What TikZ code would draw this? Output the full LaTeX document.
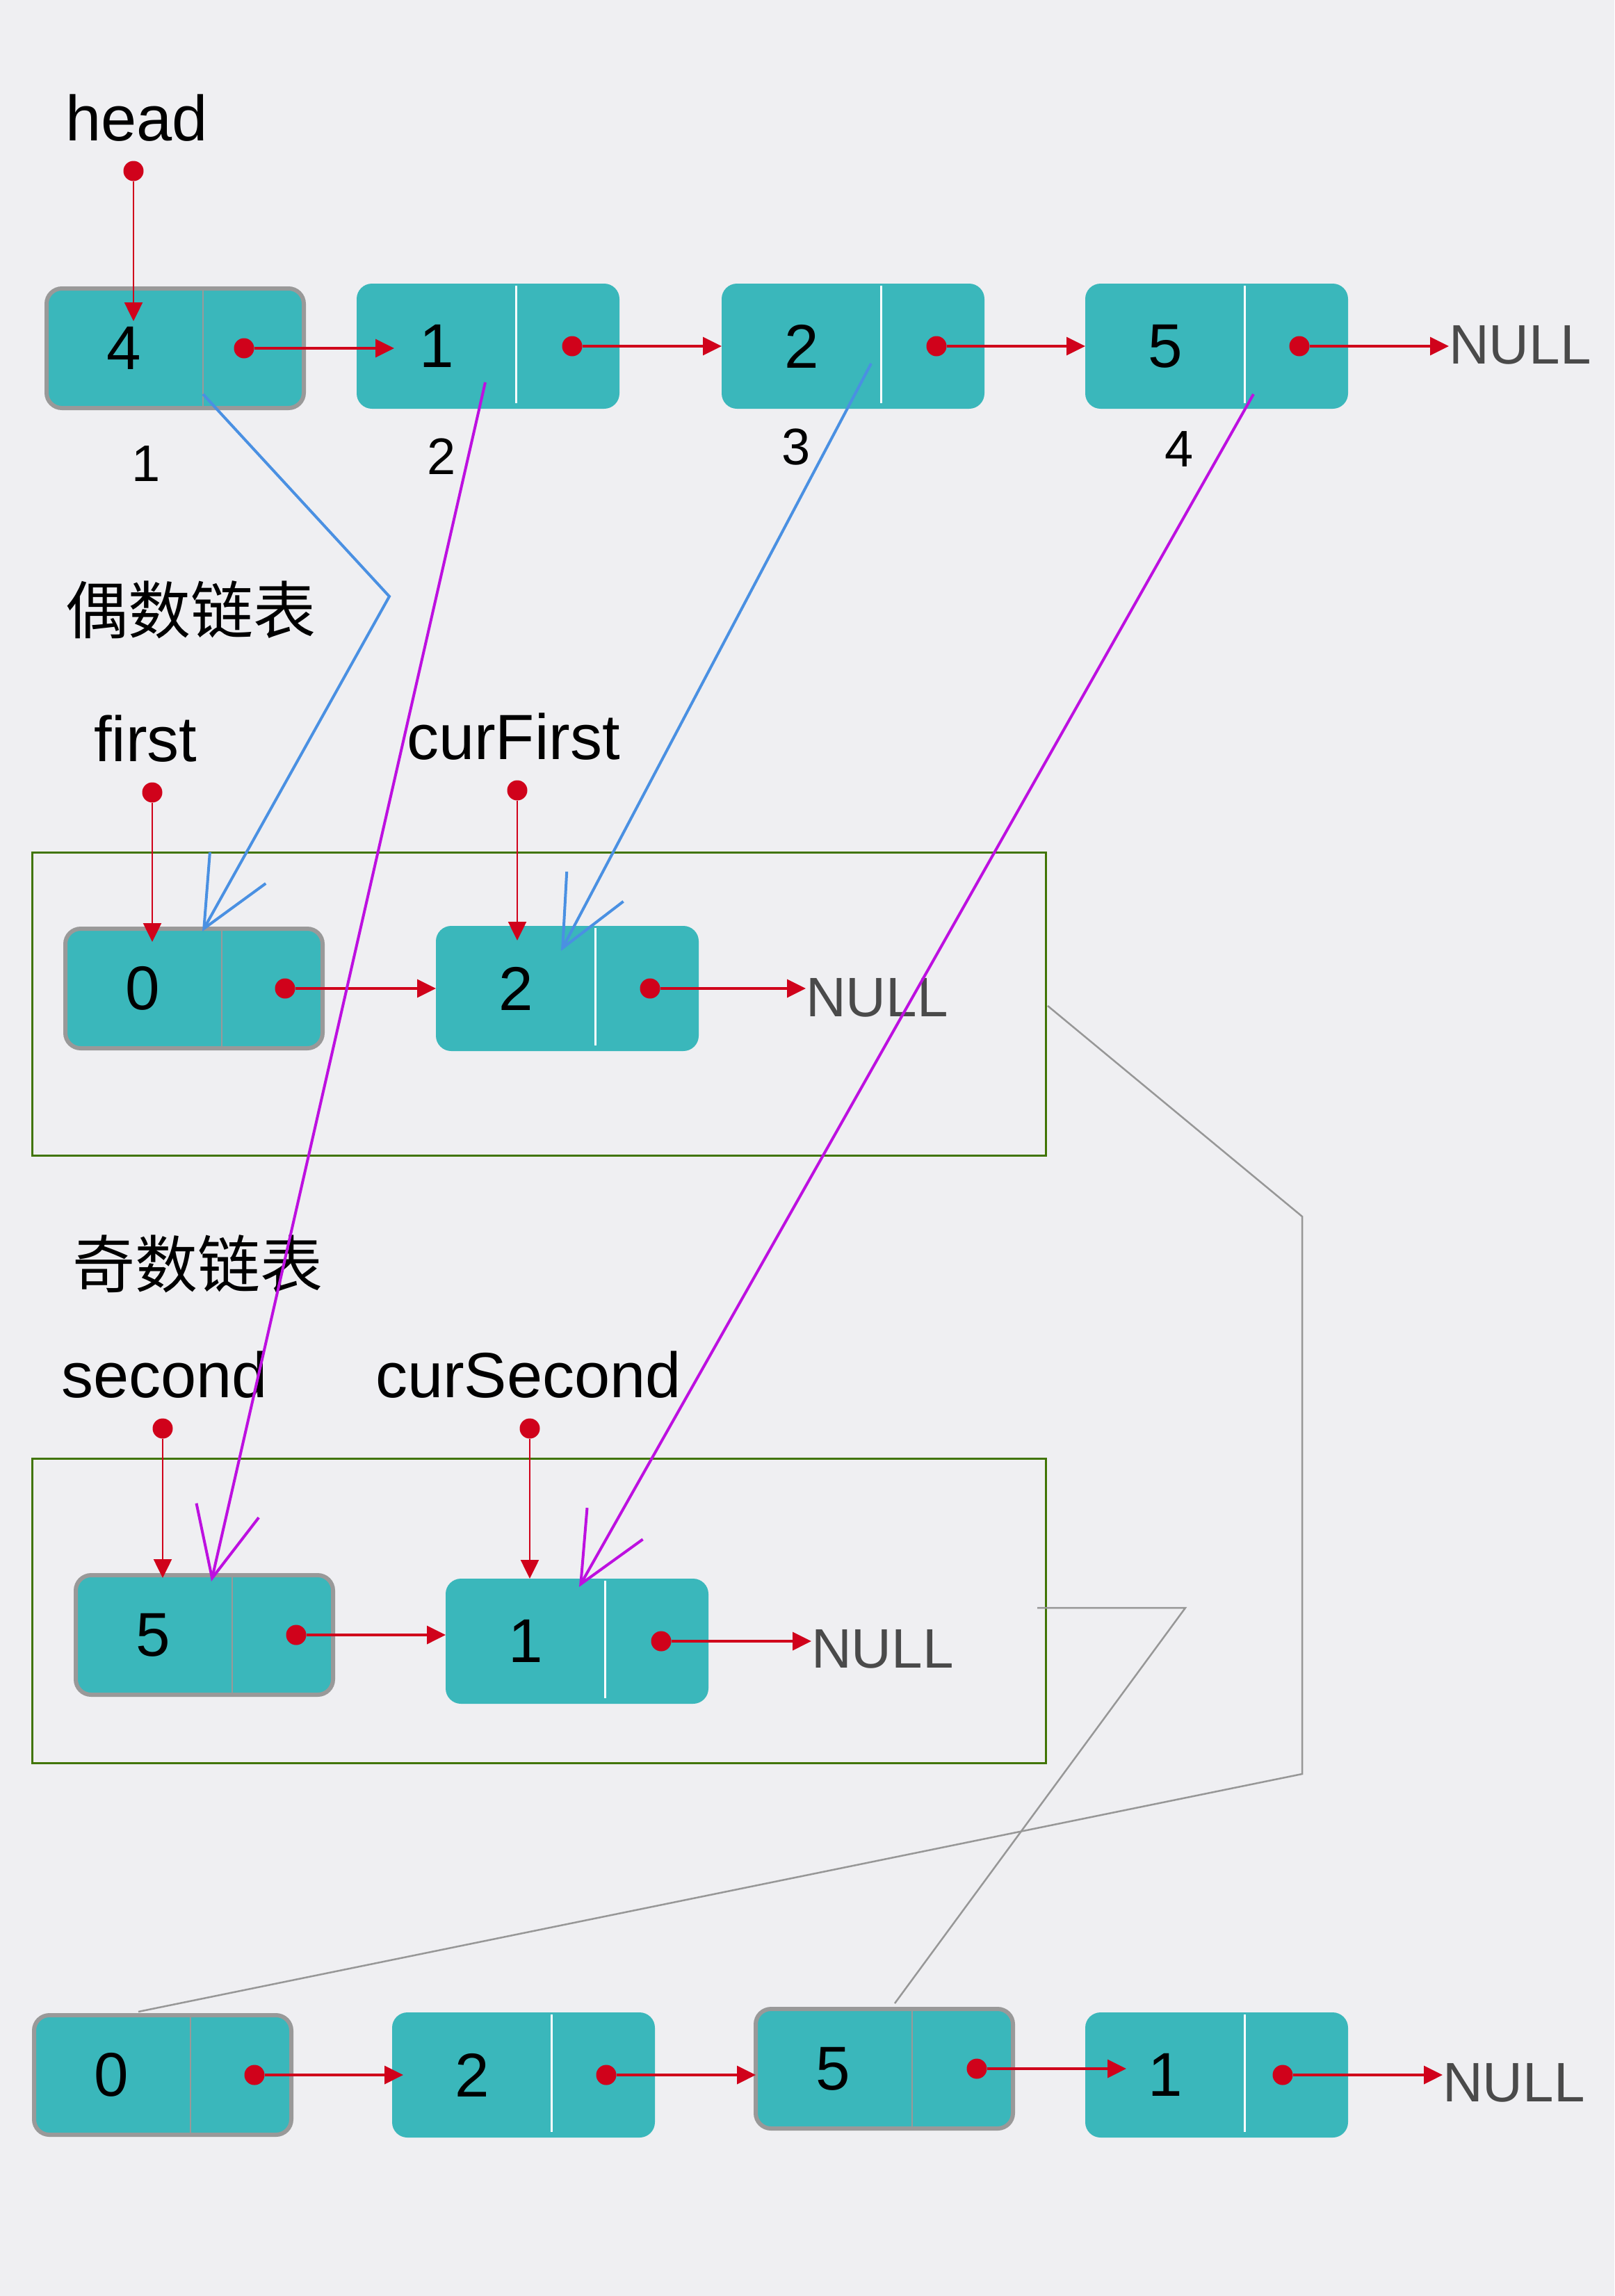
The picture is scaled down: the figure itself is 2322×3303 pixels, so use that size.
\documentclass[tikz,border=0pt]{standalone}
\usepackage{fontspec}
\setmainfont{Liberation Sans}
\newfontfamily\cjk{Noto Sans CJK SC}
\usetikzlibrary{arrows.meta,calc}
\definecolor{bg}{HTML}{EFEFF2}
\definecolor{nodeteal}{HTML}{3AB7BB}
\definecolor{bordgray}{HTML}{999999}
\definecolor{ptrred}{HTML}{D0021B}
\definecolor{lineblue}{HTML}{4A90E2}
\definecolor{linepurple}{HTML}{BD10E0}
\definecolor{linegray}{HTML}{979797}
\definecolor{boxgreen}{HTML}{417505}
\definecolor{nullgray}{HTML}{4A4A4A}
\newcommand\llnode[6]{%
  \node[llbox,#4] (#1) at (#2) {};
  \draw[#5] ($(#1.north)+(40,0)$) -- ($(#1.south)+(40,0)$);
  \node[num] (#1v) at ($(#1.center)+(-74,0)$) {#3};
  \node[rdot] (#1d) at ($(#1.center)+(#6,0)$) {};
}
\begin{document}
\begin{tikzpicture}[x=1pt,y=-1pt,
  llbox/.style={rectangle, rounded corners=22pt, fill=nodeteal, minimum width=378pt, minimum height=180pt, inner sep=0pt, outer sep=0pt},
  bord/.style={draw=bordgray, line width=6pt, minimum width=370pt, minimum height=172pt},
  divb/.style={draw=bordgray, line width=2pt},
  divw/.style={draw=white, line width=3pt, shorten <=3pt, shorten >=8pt},
  rdot/.style={circle, fill=ptrred, inner sep=0pt, minimum size=29pt},
  nxt/.style={draw=ptrred, line width=3.5pt, -{Triangle[length=27pt,width=26pt]}},
  ptr/.style={draw=ptrred, line width=2.5pt, -{Triangle[length=27pt,width=26pt]}},
  bluearr/.style={draw=lineblue, line width=4pt, -{Straight Barb[length=100pt,width=92pt]}},
  purparr/.style={draw=linepurple, line width=4pt, -{Straight Barb[length=100pt,width=92pt]}},
  grayline/.style={draw=linegray, line width=2.5pt},
  gbox/.style={draw=boxgreen, line width=3pt, inner sep=0pt, outer sep=0pt, minimum width=1458pt},
  lbl/.style={font=\fontsize{92pt}{100pt}\selectfont, inner sep=0pt, anchor=base west},
  cjklbl/.style={font=\cjk\fontsize{90pt}{100pt}\selectfont, inner sep=0pt, anchor=west},
  num/.style={font=\fontsize{89pt}{100pt}\selectfont, inner sep=0pt},
  idx/.style={font=\fontsize{74pt}{80pt}\selectfont, inner sep=0pt},
  nulltxt/.style={font=\fontsize{80pt}{90pt}\selectfont, text=nullgray, inner sep=0pt, anchor=west}
]
\path[fill=bg] (0,0) rectangle (2322,3303);

% group boxes
\node[gbox, minimum height=436pt] (box1) at (775,1444) {};
\node[gbox, minimum height=438pt] (box2) at (775,2317) {};

% labels
\node[lbl] (head) at (94,202) {head};
\node[cjklbl] (evenT) at (94,877) {偶数链表};
\node[lbl] (first) at (135,1095) {first};
\node[lbl] (curFirst) at (585,1092) {curFirst};
\node[cjklbl] (oddT) at (104,1818) {奇数链表};
\node[lbl] (second) at (88,2010) {second};
\node[lbl] (curSecond) at (540,2010) {curSecond};

\node[idx] (i1) at (210,667) {1};
\node[idx] (i2) at (635,657) {2};
\node[idx] (i3) at (1145,643) {3};
\node[idx] (i4) at (1696,646) {4};

\node[nulltxt] (nullA) at (2084,496) {NULL};
\node[nulltxt] (nullB) at (1159,1435) {NULL};
\node[nulltxt] (nullC) at (1167,2372) {NULL};
\node[nulltxt] (nullD) at (2075,2996) {NULL};

% gray connectors
\coordinate (gA0) at ($(box1.east)+(3,3)$);
\coordinate (gA1) at (1873,1750);
\coordinate (gA2) at (1873,2552);
\coordinate (gB0) at (1492,2313);
\coordinate (gB1) at (1705,2313);

% nodes
\llnode{t4}{252,501}{4}{bord}{divb}{99}
\llnode{t1}{702,498}{1}{}{divw}{121}
\llnode{t2}{1227,498}{2}{}{divw}{120}
\llnode{t5}{1750,498}{5}{}{divw}{119}

\llnode{e0}{279,1422}{0}{bord}{divb}{131}
\llnode{e2}{816,1422}{2}{}{divw}{119}

\llnode{o5}{294,2352}{5}{bord}{divb}{132}
\llnode{o1}{830,2361}{1}{}{divw}{121}

\llnode{b0}{234,2985}{0}{bord}{divb}{132}
\llnode{b2}{753,2985}{2}{}{divw}{119}
\llnode{b5}{1272,2976}{5}{bord}{divb}{133}
\llnode{b1}{1750,2985}{1}{}{divw}{95}

\draw[grayline] (gA0) -- (gA1) -- (gA2) -- ($(b0.center)+(-35,-91)$);
\draw[grayline] (gB0) -- (gB1) -- ($(b5.center)+(15,-94)$);

% pointer dots
\node[rdot] (hd) at (192,246) {};
\node[rdot] (fd) at (219,1140) {};
\node[rdot] (cfd) at (744,1137) {};
\node[rdot] (sd) at (234,2055) {};
\node[rdot] (csd) at (762,2055) {};

\draw[ptr] (hd) -- ($(hd |- t4.north)+(0,47)$);
\draw[ptr] (fd) -- ($(fd |- e0.north)+(0,19)$);
\draw[ptr] (cfd) -- ($(cfd |- e2.north)+(0,21)$);
\draw[ptr] (sd) -- ($(sd |- o5.north)+(0,4)$);
\draw[ptr] (csd) -- (csd |- o1.north);

% next links
\draw[nxt] (t4d) -- ($(t4d -| t1.west)+(54,0)$);
\draw[nxt] (t1d) -- (t1d -| t2.west);
\draw[nxt] (t2d) -- (t2d -| t5.west);
\draw[nxt] (t5d) -- (t5d -| nullA.west);
\draw[nxt] (e0d) -- (e0d -| e2.west);
\draw[nxt] (e2d) -- (e2d -| nullB.west);
\draw[nxt] (o5d) -- (o5d -| o1.west);
\draw[nxt] (o1d) -- (o1d -| nullC.west);
\draw[nxt] (b0d) -- ($(b0d -| b2.west)+(16,0)$);
\draw[nxt] (b2d) -- (b2d -| b5.west);
\draw[nxt] (b5d) -- ($(b5d -| b1.west)+(59,0)$);
\draw[nxt] (b1d) -- (b1d -| nullD.west);

% split connectors
\coordinate (bA1) at ($(t4.center)+(40,66)$);
\coordinate (bAm) at (560,858);
\coordinate (bA2) at ($(e0.center)+(12,-82)$);
\coordinate (bB1) at ($(t2.center)+(26,25)$);
\coordinate (bB2) at ($(e2.center)+(-9,-54)$);
\coordinate (pA1) at ($(t1.center)+(-4,52)$);
\coordinate (pA2) at ($(o5.center)+(10,-77)$);
\coordinate (pB1) at ($(t5.center)+(53,69)$);
\coordinate (pB2) at ($(o1.center)+(3,-78)$);

\draw[bluearr] (bA1) -- (bAm) -- (bA2);
\draw[bluearr] (bB1) -- (bB2);
\draw[purparr] (pA1) -- (pA2);
\draw[purparr] (pB1) -- (pB2);
\end{tikzpicture}
\end{document}
